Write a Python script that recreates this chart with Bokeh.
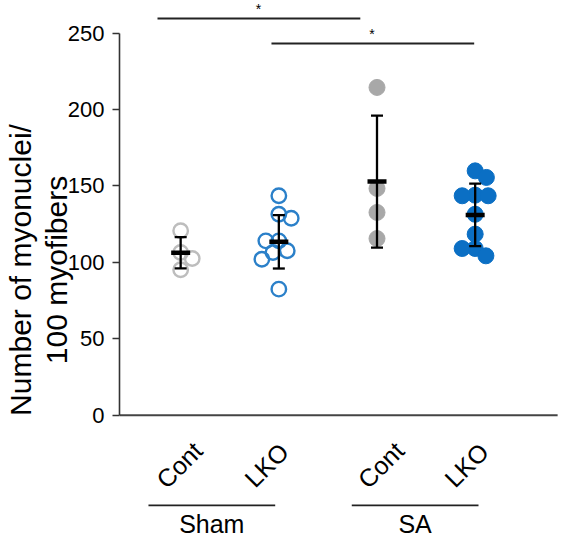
import math
from bokeh.plotting import figure
from bokeh.models import Range1d, FixedTicker
from bokeh.core.properties import value
from bokeh.embed import file_html
from bokeh.resources import INLINE

# ---------------- data ----------------
conditions = ["Sham", "SA"]
genotypes = ["Cont", "LKO"]
sham_cont = [120.7, 106.5, 102.6, 95.2]
sham_lko = [143.6, 131.5, 128.9, 114.1, 114.1, 107.6, 106.5, 102.1, 82.5]
sa_cont = [214.5, 148.4, 132.7, 115.6]
sa_lko = [159.9, 155.6, 144.0, 143.6, 143.6, 131.5, 118.5, 109.1, 109.1, 104.3]
group_means = [106.3, 113.5, 152.9, 131.1]
group_sds = [10.2, 17.5, 43.2, 20.4]
y_ticks = [0, 50, 100, 150, 200, 250]
sig_labels = ["*", "*"]
y_label = "Number of myonuclei/\n100 myofibers"

# ---------------- layout ----------------
W, H = 564, 539
LEFT = 119
X0, X1 = 0.3769, 4.910
Y0, Y1 = -81.35, 271.4
FONT = "Liberation Sans"

p = figure(width=W, height=H, output_backend="svg", toolbar_location=None,
           x_range=Range1d(X0, X1), y_range=Range1d(Y0, Y1),
           x_axis_location=None, min_border_left=LEFT, min_border_right=0,
           min_border_top=0, min_border_bottom=0)
p.outline_line_color = None
p.xgrid.visible = False
p.ygrid.visible = False
p.background_fill_color = "white"
p.border_fill_color = "white"

ax = p.yaxis[0]
ax.ticker = FixedTicker(ticks=y_ticks)
ax.bounds = (0, 250)
ax.axis_line_color = "#333333"
ax.axis_line_width = 1.6
ax.major_tick_line_color = "#333333"
ax.major_tick_line_width = 1.6
ax.major_tick_out = 7
ax.major_tick_in = 0
ax.minor_tick_out = 0
ax.minor_tick_in = 0
ax.major_label_text_font = FONT
ax.major_label_text_font_size = "22px"
ax.major_label_text_color = "black"
ax.major_label_standoff = 8
ax.axis_label = y_label
ax.axis_label_text_font = FONT
ax.axis_label_text_font_size = "30px"
ax.axis_label_text_font_style = "normal"
ax.axis_label_text_color = "black"
ax.axis_label_standoff = -8
ax.axis_label_text_line_height = 1.08

px_x = (W - LEFT) / (X1 - X0)
px_y = H / (Y1 - Y0)

# baseline (x axis line at y = 0)
p.segment(x0=[X0], y0=[0], x1=[4.84], y1=[0], line_color="#444444", line_width=2)


def swarm(vals, d_px):
    placed = []
    out = [0.0] * len(vals)
    last = -1
    for i in sorted(range(len(vals)), key=lambda k: -vals[k]):
        y = vals[i] * px_y
        cands = [0.0]
        for (qx, qy) in placed:
            dy = abs(y - qy)
            if dy < d_px:
                dx = math.sqrt(d_px ** 2 - dy ** 2)
                cands += [qx + dx, qx - dx]
        valid = [c for c in cands
                 if all((c - qx) ** 2 + (y - qy) ** 2 >= d_px ** 2 - 1e-6 for qx, qy in placed)]
        best = min(valid, key=lambda c: (round(abs(c), 3), 0 if c * last < 0 else 1))
        if abs(best) > 1e-9:
            last = 1 if best > 0 else -1
        placed.append((best, y))
        out[i] = best / px_x
    return out


series = [sham_cont, sham_lko, sa_cont, sa_lko]
styles = [
    dict(fill_color=None, line_color="#bdbdbd", line_width=2.4, size=14.5),
    dict(fill_color=None, line_color="#2b80c9", line_width=2.4, size=14.5),
    dict(fill_color="#a8a8a8", line_color="#a8a8a8", line_width=1, size=16),
    dict(fill_color="#0b6fc4", line_color="#0b6fc4", line_width=1, size=16),
]
for gi, (vals, st) in enumerate(zip(series, styles)):
    offs = swarm(vals, 13.0)
    xs = [gi + 1 + o for o in offs]
    p.scatter(x=xs, y=vals, marker="circle", **st)

gx = [1, 2, 3, 4]
lo = [m - s for m, s in zip(group_means, group_sds)]
hi = [m + s for m, s in zip(group_means, group_sds)]
p.segment(x0=gx, y0=lo, x1=gx, y1=hi, line_color="black", line_width=2.3)
p.scatter(x=gx + gx, y=lo + hi, marker="dash", size=12, line_color="black", line_width=2.3)
p.rect(x=gx, y=group_means, width=19, height=4.5, width_units="screen",
       height_units="screen", fill_color="black", line_color=None)

# significance brackets
br_x0 = [1 - 0.236, 2 - 0.075]
br_x1 = [3 - 0.17, 4 - 0.01]
br_y = [259.6, 243.2]
p.segment(x0=br_x0, y0=br_y, x1=br_x1, y1=br_y, line_color="#222222", line_width=2)
p.text(x=[1.793, 2.948], y=[265.8, 249.4], text=sig_labels, text_align="center",
       text_baseline="middle", text_font=value(FONT), text_font_size="14px",
       text_color="black")

# category labels
cat_text = genotypes * 2
cat_x = [1 - 0.015, 2 - 0.126, 3 + 0.039, 4 - 0.088]
p.text(x=cat_x, y=[-32.6] * 4, text=cat_text, angle=math.pi / 4, text_align="center",
       text_baseline="middle", text_font=value(FONT), text_font_size="25px",
       text_color="black")

# condition underlines and labels
p.segment(x0=[0.672, 2.743], y0=[-59.0, -59.0], x1=[1.963, 4.034], y1=[-59.0, -59.0],
          line_color="#222222", line_width=1.6)
p.text(x=[1.317, 3.388], y=[-71.5, -71.5], text=conditions, text_align="center",
       text_baseline="middle", text_font=value(FONT), text_font_size="25px",
       text_color="black")

open("out.html", "w").write(file_html(p, INLINE))
